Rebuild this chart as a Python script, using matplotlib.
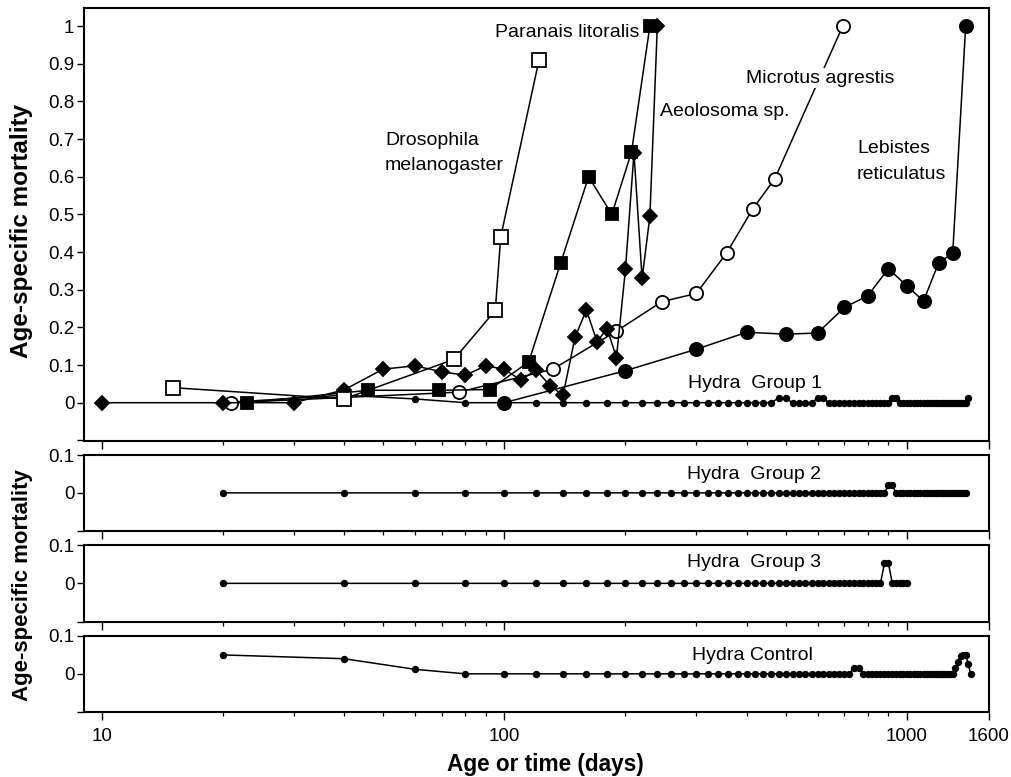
import matplotlib
matplotlib.use('Agg')
import matplotlib.pyplot as plt
from matplotlib.ticker import FixedLocator, NullFormatter, FixedFormatter

plt.rcParams['font.family'] = ['Liberation Sans', 'DejaVu Sans']

# ---------------- data ----------------
dros_x = [15, 40, 75, 95, 98, 122]
dros_y = [0.04, 0.01, 0.115, 0.245, 0.44, 0.91]

para_x = [23, 46, 69, 92, 115, 138, 162, 185, 207, 230]
para_y = [0, 0.033, 0.033, 0.035, 0.108, 0.37, 0.6, 0.5, 0.665, 1.0]

aeol_x = [10, 20, 30, 40, 50, 60, 70, 80, 90, 100, 110, 120, 130, 140,
          150, 160, 170, 180, 190, 200, 210, 220, 230, 240]
aeol_y = [0, 0, 0, 0.034, 0.089, 0.098, 0.082, 0.073, 0.098, 0.089, 0.06,
          0.087, 0.045, 0.02, 0.175, 0.246, 0.162, 0.197, 0.12, 0.354,
          0.663, 0.33, 0.495, 1.0]

micr_x = [21, 77, 132, 190, 246, 300, 357, 414, 470, 693]
micr_y = [0, 0.028, 0.089, 0.19, 0.268, 0.29, 0.398, 0.514, 0.595, 1.0]

lebi_x = [100, 200, 300, 400, 500, 600, 700, 800, 900, 1000, 1100, 1200,
          1300, 1400]
lebi_y = [0, 0.085, 0.142, 0.187, 0.182, 0.185, 0.253, 0.284, 0.356, 0.31,
          0.27, 0.372, 0.397, 1.0]

hydra_days = [20, 40, 60, 80, 100, 120, 140, 160, 180, 200,
              220, 240, 260, 280, 300, 320, 340, 360, 380, 400,
              420, 440, 460, 480, 500, 520, 540, 560, 580, 600,
              620, 640, 660, 680, 700, 720, 740, 760, 780, 800,
              820, 840, 860, 880, 900, 920, 940, 960, 980, 1000,
              1020, 1040, 1060, 1080, 1100, 1120, 1140, 1160, 1180, 1200,
              1220, 1240, 1260, 1280, 1300, 1320, 1340, 1360, 1380, 1400,
              1420, 1440]

hydra_g1 = [0, 0.02, 0.01, 0, 0, 0, 0, 0, 0, 0,
            0, 0, 0, 0, 0, 0, 0, 0, 0, 0,
            0, 0, 0, 0.012, 0.012, 0, 0, 0, 0, 0.012,
            0.012, 0, 0, 0, 0, 0, 0, 0, 0, 0,
            0, 0, 0, 0, 0, 0.012, 0.012, 0, 0, 0,
            0, 0, 0, 0, 0, 0, 0, 0, 0, 0,
            0, 0, 0, 0, 0, 0, 0, 0, 0, 0,
            0.012]

hydra_g2 = [0, 0, 0, 0, 0, 0, 0, 0, 0, 0,
            0, 0, 0, 0, 0, 0, 0, 0, 0, 0,
            0, 0, 0, 0, 0, 0, 0, 0, 0, 0,
            0, 0, 0, 0, 0, 0, 0, 0, 0, 0,
            0, 0, 0, 0, 0.02, 0.02, 0, 0, 0, 0,
            0, 0, 0, 0, 0, 0, 0, 0, 0, 0,
            0, 0, 0, 0, 0, 0, 0, 0, 0, 0]

hydra_g3 = [0, 0, 0, 0, 0, 0, 0, 0, 0, 0,
            0, 0, 0, 0, 0, 0, 0, 0, 0, 0,
            0, 0, 0, 0, 0, 0, 0, 0, 0, 0,
            0, 0, 0, 0, 0, 0, 0, 0, 0, 0,
            0, 0, 0, 0.053, 0.053, 0, 0, 0, 0, 0]

hydra_ctrl = [0.05, 0.04, 0.012, 0, 0, 0, 0, 0, 0, 0,
              0, 0, 0, 0, 0, 0, 0, 0, 0, 0,
              0, 0, 0, 0, 0, 0, 0, 0, 0, 0,
              0, 0, 0, 0, 0, 0, 0.016, 0.016, 0, 0,
              0, 0, 0, 0, 0, 0, 0, 0, 0, 0,
              0, 0, 0, 0, 0, 0, 0, 0, 0, 0,
              0, 0, 0, 0, 0, 0.015, 0.031, 0.046, 0.051, 0.051,
              0.027, 0]

top_yticks = [-0.1, 0, 0.1, 0.2, 0.3, 0.4, 0.5, 0.6, 0.7, 0.8, 0.9, 1.0]
top_ylabels = ['', '0', '0.1', '0.2', '0.3', '0.4', '0.5', '0.6', '0.7',
               '0.8', '0.9', '1']
low_yticks = [-0.1, 0, 0.1]
low_ylabels = ['', '0', '0.1']
x_major = [10, 100, 1000, 1600]
x_major_labels = ['10', '100', '1000', '1600']
x_minor = [20, 30, 40, 50, 60, 70, 80, 90, 200, 300, 400, 500, 600, 700,
           800, 900]

# ---------------- figure ----------------
fig = plt.figure(figsize=(10.12, 7.77), dpi=100)
L, W = 0.0830, 0.8943
ax1 = fig.add_axes([L, 0.43243, W, 0.55727])
ax2 = fig.add_axes([L, 0.31699, W, 0.09742])
ax3 = fig.add_axes([L, 0.19987, W, 0.09871])
ax4 = fig.add_axes([L, 0.08404, W, 0.09743])

lw = 1.1
big = dict(color='black', lw=lw, mec='black', mew=1.3)
small = dict(color='black', lw=lw, marker='o', ms=4.3, mfc='black', mec='black')

ax1.plot(hydra_days[:71], hydra_g1, **small, zorder=2)
ax1.plot(lebi_x, lebi_y, marker='o', ms=9.5, mfc='black', **big, zorder=3)
ax1.plot(micr_x, micr_y, marker='o', ms=9.5, mfc='white', **big, zorder=4)
ax1.plot(aeol_x, aeol_y, marker='D', ms=7.3, mfc='black', **big, zorder=5)
ax1.plot(para_x, para_y, marker='s', ms=9.3, mfc='black', **big, zorder=6)
ax1.plot(dros_x, dros_y, marker='s', ms=9.5, mfc='white', **big, zorder=7)

ax2.plot(hydra_days[:70], hydra_g2, **small)
ax3.plot(hydra_days[:50], hydra_g3, **small)
ax4.plot(hydra_days[:72], hydra_ctrl, **small)

fs_lab = 14
ax1.text(94.8, 0.984, 'Paranais litoralis', fontsize=fs_lab, ha='left', va='center', zorder=10)
ax1.text(50.6, 0.697, 'Drosophila', fontsize=fs_lab, ha='left', va='center')
ax1.text(50.6, 0.631, 'melanogaster', fontsize=fs_lab, ha='left', va='center')
ax1.text(243.8, 0.772, 'Aeolosoma sp.', fontsize=fs_lab, ha='left', va='center')
ax1.text(398.7, 0.862, 'Microtus agrestis', fontsize=fs_lab, ha='left', va='center',
         bbox=dict(facecolor='white', edgecolor='none', pad=1), zorder=10)
ax1.text(752, 0.676, 'Lebistes', fontsize=fs_lab, ha='left', va='center')
ax1.text(752, 0.607, 'reticulatus', fontsize=fs_lab, ha='left', va='center')
ax1.text(286, 0.052, 'Hydra  Group 1', fontsize=fs_lab, ha='left', va='center')
ax2.text(285, 0.0496, 'Hydra  Group 2', fontsize=fs_lab, ha='left', va='center')
ax3.text(285, 0.0536, 'Hydra  Group 3', fontsize=fs_lab, ha='left', va='center')
ax4.text(292.8, 0.048, 'Hydra Control', fontsize=fs_lab, ha='left', va='center')

for ax in (ax1, ax2, ax3, ax4):
    ax.set_xscale('log')
    ax.set_xlim(9.04, 1600)
    ax.xaxis.set_major_locator(FixedLocator(x_major))
    ax.xaxis.set_minor_locator(FixedLocator(x_minor))
    ax.xaxis.set_minor_formatter(NullFormatter())
    ax.tick_params(axis='x', which='major', direction='out', length=6, width=1.0,
                   labelsize=13.5, pad=6)
    ax.tick_params(axis='x', which='minor', direction='out', length=3, width=0.9)
    ax.tick_params(axis='y', which='major', direction='out', length=5, width=1.0,
                   labelsize=13.5, pad=2)
    for s in ax.spines.values():
        s.set_linewidth(1.5)

ax1.set_ylim(-0.1017, 1.048)
ax1.yaxis.set_major_locator(FixedLocator(top_yticks))
ax1.yaxis.set_major_formatter(FixedFormatter(top_ylabels))
for ax in (ax2, ax3, ax4):
    ax.set_ylim(-0.1, 0.1)
    ax.yaxis.set_major_locator(FixedLocator(low_yticks))
    ax.yaxis.set_major_formatter(FixedFormatter(low_ylabels))

for ax in (ax1, ax2, ax3):
    ax.xaxis.set_major_formatter(NullFormatter())
ax4.xaxis.set_major_formatter(FixedFormatter(x_major_labels))

fig.text(22 / 1012, 1 - 231 / 777, 'Age-specific mortality', rotation=90,
         fontsize=17.5, fontweight='bold', ha='center', va='center')
fig.text(23 / 1012, 1 - 585 / 777, 'Age-specific mortality', rotation=90,
         fontsize=16, fontweight='bold', ha='center', va='center')
fig.text(545 / 1012, 1 - 764 / 777, 'Age or time (days)', fontsize=16.3,
         fontweight='bold', ha='center', va='center')

fig.savefig('out.png', dpi=100)
